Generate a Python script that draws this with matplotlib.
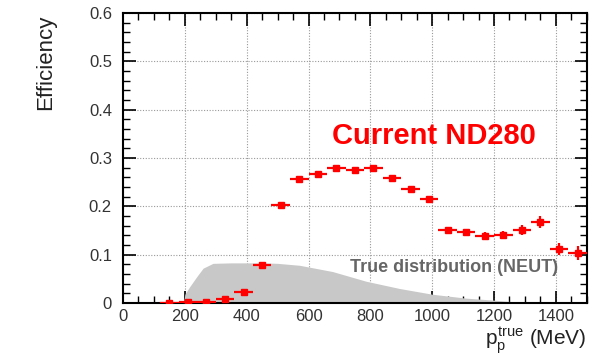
import numpy as np
import matplotlib
matplotlib.use("Agg")
import matplotlib.pyplot as plt
from matplotlib.ticker import MultipleLocator

plt.rcParams['font.family'] = ['Liberation Sans', 'DejaVu Sans']
plt.rcParams['mathtext.fontset'] = 'custom'
plt.rcParams['mathtext.rm'] = 'Liberation Sans'
plt.rcParams['mathtext.it'] = 'Liberation Sans'

# Efficiency points (bin centers, MeV)
p_mev = [150, 210, 270, 330, 390, 450, 510, 570, 630, 690, 750, 810,
         870, 930, 990, 1050, 1110, 1170, 1230, 1290, 1350, 1410, 1470]
efficiency = [0.000, 0.002, 0.003, 0.008, 0.023, 0.078, 0.202, 0.256, 0.268,
              0.279, 0.275, 0.279, 0.258, 0.236, 0.215, 0.152, 0.146, 0.139,
              0.140, 0.151, 0.168, 0.112, 0.103]
eff_err = [0.002, 0.002, 0.002, 0.003, 0.004, 0.004, 0.004, 0.004, 0.004,
           0.004, 0.004, 0.005, 0.005, 0.005, 0.006, 0.006, 0.007, 0.008,
           0.008, 0.010, 0.013, 0.012, 0.014]
bin_half = 30

# True distribution (NEUT) shape, arbitrary scale
true_p = [196, 200, 216, 238, 259, 291, 350, 450, 500, 571, 678, 786,
          894, 1001, 1109, 1217, 1270, 1320]
true_val = [0.0, 0.018, 0.034, 0.054, 0.072, 0.082, 0.083, 0.083, 0.082,
            0.078, 0.065, 0.045, 0.030, 0.018, 0.010, 0.005, 0.002, 0.0]

fig = plt.figure(figsize=(6.0, 3.56), dpi=100)
ax = fig.add_axes([0.205, 0.149, 0.773, 0.814])

ax.fill_between(true_p, 0, true_val, color='#c8c8c8', lw=0, zorder=1)

ax.errorbar(p_mev, efficiency, xerr=bin_half, yerr=eff_err, fmt='s',
            color='#ff0000', ms=4.5, elinewidth=1.6, capsize=0, zorder=4)

ax.set_xlim(0, 1500)
ax.set_ylim(0, 0.6)
ax.xaxis.set_major_locator(MultipleLocator(200))
ax.xaxis.set_minor_locator(MultipleLocator(50))
ax.yaxis.set_minor_locator(MultipleLocator(0.02))
ax.set_yticks(np.arange(0, 0.61, 0.1))
ax.set_yticklabels(['0', '0.1', '0.2', '0.3', '0.4', '0.5', '0.6'])

ax.grid(True, which='major', color='#999999', ls=(0, (1, 1.5)), lw=0.8, zorder=0)
ax.set_axisbelow(True)

ax.tick_params(which='both', direction='in', top=True, right=True,
               labelsize=12, colors='black', labelcolor='#333333')
ax.tick_params(which='major', length=9, width=1.2)
ax.tick_params(which='minor', length=5, width=1.0)
ax.tick_params(axis='x', pad=4)
ax.tick_params(axis='y', pad=8)
for s in ax.spines.values():
    s.set_linewidth(1.5)

ax.set_ylabel('Efficiency', fontsize=16, color='#222222')
ax.yaxis.set_label_coords(-0.145, 0.83)
ax.set_xlabel(r'$p_{p}^{true}$ (MeV)', fontsize=15, color='#222222', ha='right')
ax.xaxis.set_label_coords(1.0, -0.08)

ax.text(0.45, 0.575, 'Current ND280', transform=ax.transAxes,
        color='#ff0000', fontsize=21, fontweight='bold', ha='left', va='center', zorder=5)
ax.text(0.489, 0.124, 'True distribution (NEUT)', transform=ax.transAxes,
        color='#666666', fontsize=13, fontweight='bold', ha='left', va='center', zorder=5)

fig.savefig('out.png', dpi=100)
